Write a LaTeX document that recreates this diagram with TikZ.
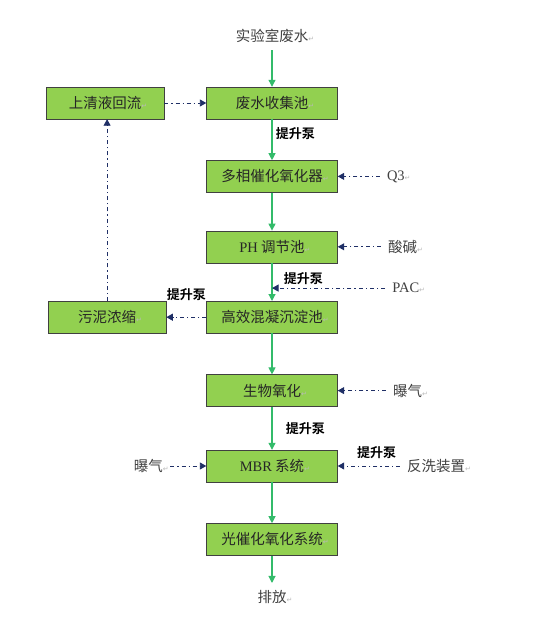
\documentclass[tikz,border=0pt]{standalone}
\usepackage{fontspec}
\setmainfont{Liberation Serif}
\newfontfamily\cjk{Noto Sans CJK SC}[BoldFont={Noto Sans CJK SC Bold}]
\newfontfamily\markfont{DejaVu Sans}
\usepackage{tikz}
\usetikzlibrary{positioning, arrows.meta}
\definecolor{boxgreen}{HTML}{92D050}
\definecolor{flowgreen}{HTML}{33BB6A}
\definecolor{navyblue}{HTML}{1F2F66}
\newcommand{\pmark}{\rlap{\markfont\fontsize{7bp}{7bp}\selectfont\color{gray!55}\symbol{"21B5}}}
\tikzset{
proc/.style={draw=black!75, fill=boxgreen, minimum width=131bp, minimum height=32bp, inner sep=0pt, font=\cjk\fontsize{14.5bp}{17bp}\selectfont, text=black!85}, % process tanks
side/.style={proc, minimum width=118bp}, % side boxes on the left
lbl/.style={font=\cjk\fontsize{14.5bp}{17bp}\selectfont, text=black!75, outer sep=4bp}, % inputs and outputs
pump/.style={font=\cjk\bfseries\fontsize{13bp}{15bp}\selectfont, text=black}, % pump labels
feed/.style={draw=flowgreen, line width=1.1pt, -{Triangle[width=7bp,length=7bp]}}, % main water flow
aux/.style={draw=navyblue, line width=0.9pt, dash pattern=on 4bp off 3bp on 1.2bp off 3bp, -{Triangle[width=7bp,length=6.5bp]}}, % dosing and side streams
}
\begin{document}
\begin{tikzpicture}[x=1bp, y=-1bp]
\useasboundingbox (0,0) rectangle (554,624);
\node[lbl] (src) at (272,36) {实验室废水\pmark};
\node[proc] (collect) at (272,103) {废水收集池\pmark};
\node[proc, below=41bp of collect] (multi) {多相催化氧化器\pmark};
\node[proc, below=38bp of multi] (ph) {{\rmfamily PH} 调节池\pmark};
\node[proc, below=38bp of ph] (coag) {高效混凝沉淀池\pmark};
\node[proc, below=41bp of coag] (bio) {生物氧化\pmark};
\node[proc, below=43bp of bio] (mbr) {{\rmfamily MBR} 系统\pmark};
\node[proc, below=41bp of mbr] (photo) {光催化氧化系统\pmark};
\node[lbl] (out) at (272,597) {排放\pmark};
\node[side, left=42bp of collect] (reflux) {上清液回流\pmark};
\node[side, left=40bp of coag] (sludge) {污泥浓缩\pmark};
\node[lbl, right=42bp of multi] (q3) {{\rmfamily Q3}\pmark};
\node[lbl, right=43bp of ph] (acid) {酸碱\pmark};
\node[lbl, right=48bp of bio] (airR) {曝气\pmark};
\node[lbl, right=62bp of mbr] (wash) {反洗装置\pmark};
\node[lbl, left=36bp of mbr] (airL) {曝气\pmark};
\path (ph.south) -- (coag.north) coordinate[pos=0.66] (dose);
\node[lbl, right=113bp of dose] (pac) {{\rmfamily PAC}\pmark};

\draw
(src) edge[feed] (collect)
(collect) edge[feed] node[pump, right, pos=0.34] (pump1) {提升泵} (multi)
(multi) edge[feed] (ph)
(ph) edge[feed] node[pump, right, pos=0.42, xshift=8bp] (pump2) {提升泵} (coag)
(coag) edge[feed] (bio)
(bio) edge[feed] node[pump, right, pos=0.5, xshift=10bp] (pump3) {提升泵} (mbr)
(mbr) edge[feed] (photo)
(photo) edge[feed] (out)
;
\draw
(q3) edge[aux] (multi)
(acid) edge[aux] (ph)
(pac) edge[aux] (dose)
(airR) edge[aux] (bio)
(airL) edge[aux] (mbr)
(wash) edge[aux] node[pump, above, pos=0.5, yshift=4bp, xshift=8bp] (pump4) {提升泵} (mbr)
(coag) edge[aux] node[pump, above, pos=0.5, yshift=13bp] (pump5) {提升泵} (sludge)
(reflux) edge[aux] (collect)
(sludge.north) edge[aux] (sludge.north |- reflux.south)
;
\end{tikzpicture}
\end{document}
